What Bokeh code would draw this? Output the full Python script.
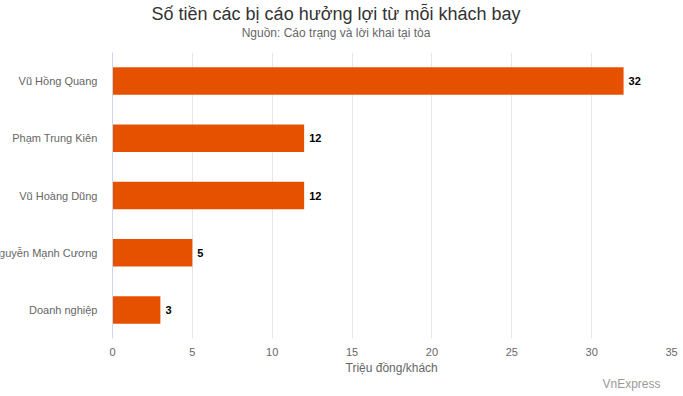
from bokeh.plotting import figure
from bokeh.models import (ColumnDataSource, FactorRange, Range1d, FixedTicker,
                          LabelSet, Span, Title, LinearAxis)
from bokeh.core.properties import value
from bokeh.embed import file_html
from bokeh.resources import INLINE

# ---- data ----
names = ["Vũ Hồng Quang", "Phạm Trung Kiên", "Vũ Hoàng Dũng",
         "Nguyễn Mạnh Cương", "Doanh nghiệp"]
values = [32, 12, 12, 5, 3]
x_ticks = [0, 5, 10, 15, 20, 25, 30, 35]
title_text = "Số tiền các bị cáo hưởng lợi từ mỗi khách bay"
subtitle_text = "Nguồn: Cáo trạng và lời khai tại tòa"
x_title = "Triệu đồng/khách"
credit_text = "VnExpress"

FONT = "Liberation Sans"
W, H = 683, 392
RIGHT, TOP, BOTTOM = 12, 52, 54
X_START = -7.01  # leaves room at left for category labels

src = ColumnDataSource(dict(name=names, value=values,
                            vlabel=[str(v) for v in values]))

p = figure(width=W, height=H, output_backend="svg", toolbar_location=None,
           y_range=FactorRange(factors=list(reversed(names)), range_padding=0),
           x_range=Range1d(X_START, 35),
           min_border_left=0, min_border_right=RIGHT,
           min_border_top=TOP, min_border_bottom=BOTTOM)
p.outline_line_color = None
p.background_fill_color = "white"
p.border_fill_color = "white"

p.hbar(y="name", right="value", height=0.48, source=src,
       fill_color="#e65100", line_color=None)

# x axis
xa = p.xaxis[0]
xa.ticker = FixedTicker(ticks=x_ticks)
xa.axis_line_color = None
xa.major_tick_line_color = None
xa.minor_tick_line_color = None
xa.major_tick_out = 0
xa.major_tick_in = 0
xa.major_label_standoff = 9
xa.major_label_text_font = FONT
xa.major_label_text_font_size = "11px"
xa.major_label_text_color = "#666666"

p.yaxis.visible = False
p.ygrid.grid_line_color = None
p.xgrid.grid_line_color = "#e6e6e6"
p.xgrid.ticker = FixedTicker(ticks=x_ticks)

# y axis line
p.add_layout(Span(location=0, dimension="height", line_color="#ccd6eb",
                  line_width=1))

# category labels
p.add_layout(LabelSet(x=0, y="name", text="name", source=src, x_offset=-15,
                      text_align="right", text_baseline="middle",
                      text_font=value(FONT), text_font_size=value("11px"),
                      text_color="#666666"))
# value labels
p.add_layout(LabelSet(x="value", y="name", text="vlabel", source=src,
                      x_offset=5, text_align="left", text_baseline="middle",
                      text_font=value(FONT), text_font_size=value("11px"),
                      text_font_style="bold", text_color="#000000"))

# spacer between subtitle and plot area (an invisible axis with a blank label)
spacer = LinearAxis(ticker=FixedTicker(ticks=[0]), axis_line_color=None,
                    major_tick_line_color=None, minor_tick_line_color=None,
                    major_tick_out=12, major_tick_in=0, major_label_standoff=0,
                    major_label_overrides={0: ""},
                    major_label_text_font_size="1px")
p.add_layout(spacer, "above")

# titles
p.add_layout(Title(text=subtitle_text, align="center", text_font=FONT,
                   text_font_size="12px", text_font_style="normal",
                   text_color="#666666", standoff=1), "above")
p.add_layout(Title(text=title_text, align="center", text_font=FONT,
                   text_font_size="18px", text_font_style="normal",
                   text_color="#333333", standoff=0), "above")
# axis title (left-aligned with offset so it centres over the 0..35 span)
p.add_layout(Title(text=x_title, align="left", offset=345, text_font=FONT,
                   text_font_size="12px", text_font_style="normal",
                   text_color="#666666", standoff=0), "below")
p.add_layout(Title(text=credit_text, align="right", offset=11, text_font=FONT,
                   text_font_size="12px", text_font_style="normal",
                   text_color="#999999", standoff=0), "below")

open("out.html", "w").write(file_html(p, INLINE))
